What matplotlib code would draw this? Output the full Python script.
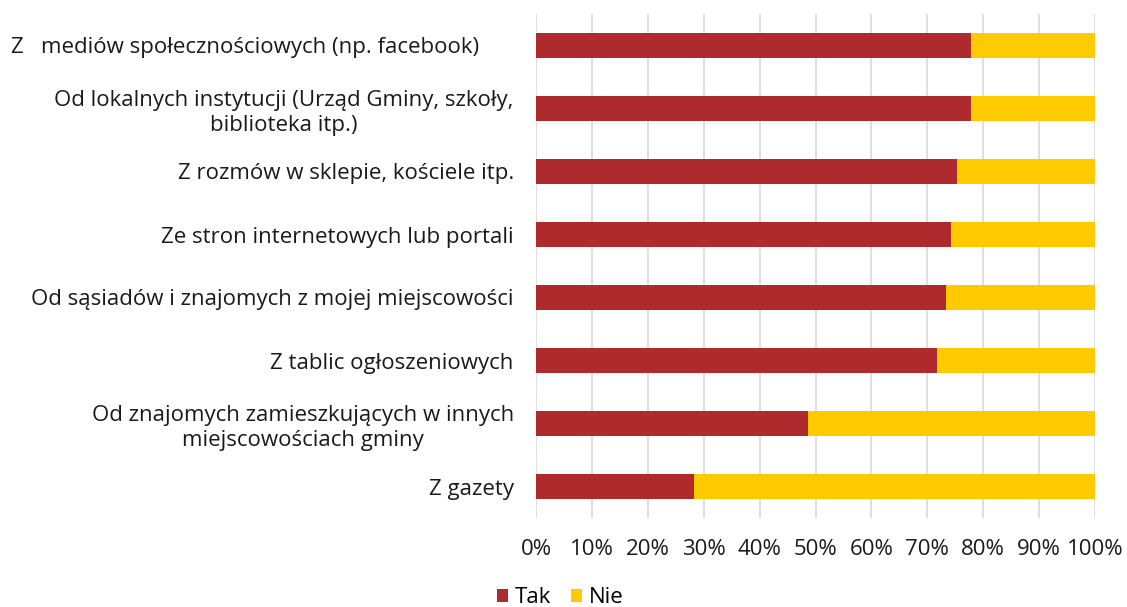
import matplotlib
matplotlib.use("Agg")
import matplotlib.pyplot as plt
import numpy as np

# ==========================
# DATA
# ==========================
categories = [
    "Z   mediów społecznościowych (np. facebook)\u00a0\u00a0\u00a0\u00a0\u00a0\u00a0",
    "Od lokalnych instytucji (Urząd Gminy, szkoły,\nbiblioteka itp.)",
    "Z rozmów w sklepie, kościele itp.",
    "Ze stron internetowych lub portali",
    "Od sąsiadów i znajomych z mojej miejscowości",
    "Z tablic ogłoszeniowych",
    "Od znajomych zamieszkujących w innych\nmiejscowościach gminy",
    "Z gazety",
]
tak = [77.8, 77.8, 75.3, 74.3, 73.4, 71.7, 48.6, 28.2]
nie = [100 - v for v in tak]
series_names = ["Tak", "Nie"]
xticks = list(range(0, 101, 10))

# ==========================
# STYLE
# ==========================
plt.rcParams["font.family"] = ["Open Sans", "DejaVu Sans"]
FS = 16
TAK_COLOR = "#AE2A2C"
NIE_COLOR = "#FFCA00"
GRID_COLOR = "#D9D9D9"
TEXT_COLOR = "#1a1a1a"

fig = plt.figure(figsize=(11.27, 6.07), dpi=100)
ax = fig.add_axes([536 / 1127, 89 / 607, (1095 - 536) / 1127, 504 / 607])

y = np.arange(len(categories))
ax.barh(y, tak, height=0.4, color=TAK_COLOR, label=series_names[0], zorder=3)
ax.barh(y, nie, left=tak, height=0.4, color=NIE_COLOR, label=series_names[1], zorder=3)

ax.set_xlim(0, 100)
ax.set_ylim(len(categories) - 0.5, -0.5)
ax.set_yticks(y)
ax.set_yticklabels(categories, fontsize=FS, color=TEXT_COLOR,
                   multialignment="center", linespacing=1.25)
ax.set_xticks(xticks)
ax.set_xticklabels([f"{t}%" for t in xticks], fontsize=FS, color=TEXT_COLOR)
ax.tick_params(axis="both", length=0)
ax.tick_params(axis="y", pad=16)
ax.tick_params(axis="x", pad=15)

ax.grid(axis="x", color=GRID_COLOR, linewidth=1.2, zorder=0)
for s in ax.spines.values():
    s.set_visible(False)

fig.legend(loc="lower center", bbox_to_anchor=(0.497, -0.035), ncol=2, frameon=False,
           fontsize=FS, handlelength=0.5, handleheight=0.5, handletextpad=0.3,
           columnspacing=0.9)

fig.savefig("out.png", dpi=100)
